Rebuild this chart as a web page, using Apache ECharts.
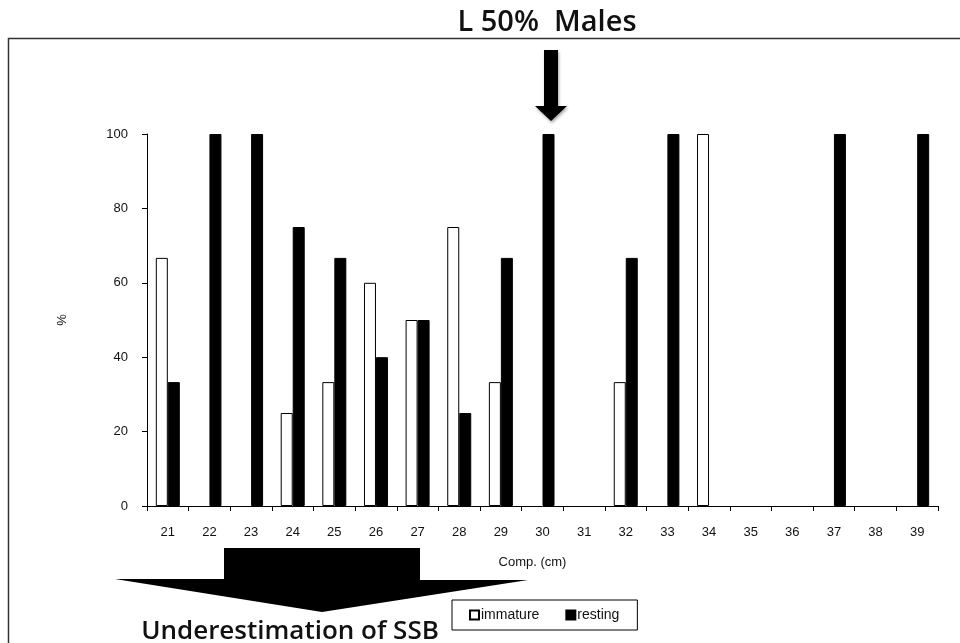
<!DOCTYPE html>
<html>
<head>
<meta charset="utf-8">
<script src="https://cdn.jsdelivr.net/npm/echarts@6/dist/echarts.min.js"></script>
<style>
html,body{margin:0;padding:0;background:#fff;}
#c{width:960px;height:643px;}
</style>
</head>
<body>
<div id="c"></div>
<script>
// ---- data ----
const categories = ['21','22','23','24','25','26','27','28','29','30','31','32','33','34','35','36','37','38','39'];
const immature   = [66.7, 0, 0, 25, 33.3, 60, 50, 75, 33.3, 0, 0, 33.3, 0, 100, 0, 0, 0, 0, 0];
const resting    = [33.3, 100, 100, 75, 66.7, 40, 50, 25, 66.7, 100, 0, 66.7, 100, 0, 0, 0, 100, 0, 100];
const seriesNames = ['immature', 'resting'];
const titleText = 'L 50%  Males';
const noteText = 'Underestimation of SSB';
const xAxisName = 'Comp. (cm)';
const yAxisName = '%';

// zero-height bars are not drawn in the reference
const hideZero = arr => arr.map(v => (v === 0 ? '-' : v));

const chart = echarts.init(document.getElementById('c'), null, {renderer: 'canvas'});
const axisFont = "'Liberation Sans', Arial, sans-serif";
const headFont = "'Open Sans', 'Noto Sans', sans-serif";

chart.setOption({
  animation: false,
  backgroundColor: '#fff',
  grid: {left: 147, right: 22, top: 134, bottom: 137, containLabel: false},
  xAxis: {
    type: 'category',
    data: categories,
    name: xAxisName,
    nameLocation: 'middle',
    nameGap: 50,
    nameTextStyle: {fontFamily: axisFont, fontSize: 13, color: '#111', padding: [0, 20, 0, 0]},
    axisLine: {show: true, lineStyle: {color: '#000', width: 1}},
    axisTick: {show: true, length: 5, alignWithLabel: false, lineStyle: {color: '#000'}},
    axisLabel: {margin: 20, fontFamily: axisFont, fontSize: 13, color: '#111'},
    splitLine: {show: false}
  },
  yAxis: {
    type: 'value',
    min: 0, max: 100, interval: 20,
    name: yAxisName,
    nameLocation: 'middle',
    nameGap: 78,
    nameRotate: 90,
    nameTextStyle: {fontFamily: axisFont, fontSize: 13, color: '#111'},
    axisLine: {show: true, lineStyle: {color: '#000', width: 1}},
    axisTick: {show: true, length: 5, lineStyle: {color: '#000'}},
    axisLabel: {margin: 19, fontFamily: axisFont, fontSize: 13, color: '#111'},
    splitLine: {show: false}
  },
  legend: {
    data: seriesNames,
    left: 452, top: 600,
    orient: 'horizontal',
    icon: 'rect',
    itemWidth: 9, itemHeight: 9,
    itemGap: 26,
    padding: [8, 18, 8, 17],
    borderColor: '#000', borderWidth: 1,
    backgroundColor: '#fff',
    textStyle: {fontFamily: axisFont, fontSize: 14, color: '#111', padding: [0, 0, 0, -3]}
  },
  series: [
    {
      name: seriesNames[0], type: 'bar', data: hideZero(immature),
      barWidth: 12, barGap: '0%',
      itemStyle: {color: '#fff', borderColor: '#000', borderWidth: 1}
    },
    {
      name: seriesNames[1], type: 'bar', data: hideZero(resting),
      barWidth: 12, barGap: '0%',
      itemStyle: {color: '#000', borderColor: '#000', borderWidth: 1}
    }
  ],
  graphic: [
    {type: 'rect', silent: true, z: 0,
     shape: {x: 8.5, y: 38.5, width: 1000, height: 700},
     style: {fill: 'none', stroke: '#333', lineWidth: 1.5}},
    {type: 'text', z: 10,
     style: {text: titleText, x: 547, y: 23, align: 'center', verticalAlign: 'middle',
             fontFamily: headFont, fontWeight: 600, fontSize: 29, fill: '#111'}},
    {type: 'polygon', z: 10,
     shape: {points: [[544,50],[558,50],[558,106],[567,106],[551,121],[535,106],[544,106]]},
     style: {fill: '#000', shadowBlur: 3, shadowColor: 'rgba(0,0,0,0.35)', shadowOffsetX: 1, shadowOffsetY: 2}},
    {type: 'polygon', z: 10,
     shape: {points: [[224,548],[420,548],[420,580],[528,580],[322,612],[115,579],[224,579]]},
     style: {fill: '#000'}},
    {type: 'text', z: 10,
     style: {text: noteText, x: 290, y: 632, align: 'center', verticalAlign: 'middle',
             fontFamily: headFont, fontWeight: 600, fontSize: 26, fill: '#111'}}
  ]
});
</script>
</body>
</html>
